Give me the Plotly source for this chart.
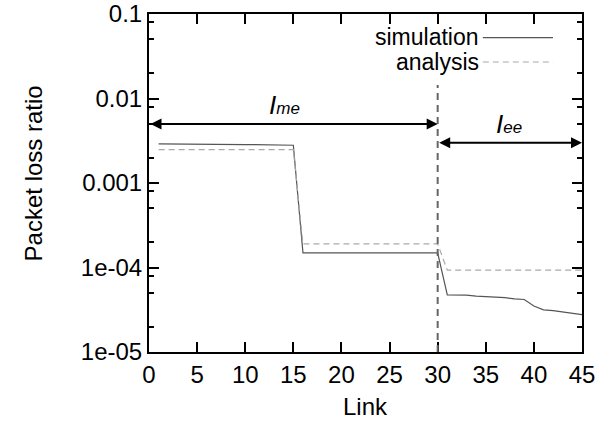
import plotly.graph_objects as go
import math

# ---- data ----
links = list(range(1, 46))
simulation = [0.00290, 0.00290, 0.00289, 0.00289, 0.00288, 0.00288, 0.00287, 0.00287,
              0.00286, 0.00285, 0.00284, 0.00283, 0.00282, 0.00281, 0.00280,
              1.49e-4, 1.49e-4, 1.49e-4, 1.49e-4, 1.49e-4, 1.49e-4, 1.49e-4, 1.49e-4,
              1.49e-4, 1.49e-4, 1.49e-4, 1.49e-4, 1.49e-4, 1.49e-4, 1.49e-4,
              4.75e-5, 4.73e-5, 4.70e-5, 4.58e-5, 4.53e-5, 4.50e-5, 4.40e-5, 4.25e-5,
              4.18e-5, 3.50e-5, 3.15e-5, 3.08e-5, 2.98e-5, 2.88e-5, 2.77e-5]
analysis = [0.00248] * 15 + [1.90e-4] * 15 + [9.3e-5] * 15

boundary_link = 30
ime_range = (0, 30)
iee_range = (30, 45)
ime_level = 0.005
iee_level = 0.003

y_tickvals = [1e-5, 1e-4, 1e-3, 1e-2, 1e-1]
y_ticktext = ["1e-05", "1e-04", "0.001", "0.01", "0.1"]
y_minor = [m * d for d in [1e-5, 1e-4, 1e-3, 1e-2] for m in (2, 5, 8)]
x_tickvals = list(range(0, 46, 5))

FONT = "Liberation Sans, Arial, Helvetica, sans-serif"
TICK_SIZE = 24

# layout geometry (px)
W, H = 602, 422
ML, MR, MT, MB = 149, 20, 14, 70
PH = H - MT - MB

fig = go.Figure()
fig.add_trace(go.Scatter(x=links, y=simulation, mode="lines", name="simulation",
                         line=dict(color="#555555", width=1.2), showlegend=False))
fig.add_trace(go.Scatter(x=links, y=analysis, mode="lines", name="analysis",
                         line=dict(color="#aaaaaa", width=1.2, dash="6px,4px"), showlegend=False))

# vertical separator (legend box hides its upper part)
fig.add_shape(type="line", xref="x", yref="paper", x0=boundary_link, x1=boundary_link,
              y0=0, y1=(H - MB - 85) / PH, line=dict(color="#666666", width=2, dash="7px,5px"))

# double arrows
for (x0, x1), lvl in [(ime_range, ime_level), (iee_range, iee_level)]:
    fig.add_annotation(x=x1, y=math.log10(lvl), ax=x0, ay=math.log10(lvl),
                       xref="x", yref="y", axref="x", ayref="y", text="",
                       showarrow=True, arrowhead=2, startarrowhead=2, arrowside="end+start",
                       arrowsize=1.1, startarrowsize=1.1, arrowwidth=2, arrowcolor="black")

# region labels
fig.add_annotation(x=14.1, y=-2.075, xref="x", yref="y", showarrow=False,
                   text="<i>I<span style='font-size:17px'>me</span></i>",
                   font=dict(family=FONT, size=26, color="black"))
fig.add_annotation(x=37.4, y=-2.30, xref="x", yref="y", showarrow=False,
                   text="<i>I<span style='font-size:17px'>ee</span></i>",
                   font=dict(family=FONT, size=26, color="black"))

# custom legend (text left of sample)
fig.add_annotation(x=0.766, y=0.932, xref="paper", yref="paper", xanchor="right", yanchor="middle",
                   text="simulation", showarrow=False, font=dict(family=FONT, size=23, color="black"))
fig.add_annotation(x=0.766, y=0.857, xref="paper", yref="paper", xanchor="right", yanchor="middle",
                   text="analysis", showarrow=False, font=dict(family=FONT, size=23, color="black"))
fig.add_shape(type="line", xref="paper", yref="paper", x0=0.771, x1=0.933, y0=0.930, y1=0.930,
              line=dict(color="#555555", width=1.2))
fig.add_shape(type="line", xref="paper", yref="paper", x0=0.771, x1=0.933, y0=0.858, y1=0.858,
              line=dict(color="#aaaaaa", width=1.2, dash="6px,4px"))

# axis titles
fig.add_annotation(x=-0.3025, y=0.527, xref="paper", yref="paper", textangle=-90,
                   text="Packet loss ratio", showarrow=False,
                   font=dict(family=FONT, size=24, color="black"))
fig.add_annotation(x=0.501, y=-MB / PH, xref="paper", yref="paper", yanchor="bottom",
                   text="Link", showarrow=False,
                   font=dict(family=FONT, size=24, color="black"))

fig.update_xaxes(range=[0, 45], tickvals=x_tickvals, ticks="inside", ticklen=10, tickwidth=1.5,
                 tickcolor="black", showline=True, linecolor="black", linewidth=2, mirror="ticks",
                 showgrid=False, zeroline=False, automargin=False,
                 tickfont=dict(family=FONT, size=TICK_SIZE, color="black"))
fig.update_yaxes(type="log", range=[-5, -1], tickvals=y_tickvals, ticktext=y_ticktext,
                 ticks="inside", ticklen=10, tickwidth=1.5, tickcolor="black",
                 showline=True, linecolor="black", linewidth=2, mirror="ticks",
                 showgrid=False, zeroline=False, automargin=False,
                 tickfont=dict(family=FONT, size=TICK_SIZE, color="black"),
                 minor=dict(tickmode="array", tickvals=y_minor, ticks="inside", ticklen=5,
                            tickwidth=1.5, tickcolor="black", showgrid=False))

fig.update_layout(width=W, height=H, margin=dict(l=ML, r=MR, t=MT, b=MB, autoexpand=False),
                  plot_bgcolor="white", paper_bgcolor="white", showlegend=False,
                  font=dict(family=FONT, color="black"))

fig.write_html("out.html")
